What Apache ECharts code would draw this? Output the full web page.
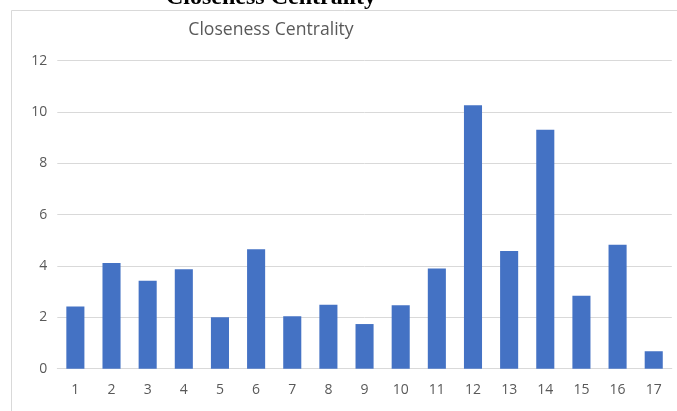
<!DOCTYPE html>
<html>
<head>
<meta charset="utf-8">
<script src="https://cdn.jsdelivr.net/npm/echarts@6/dist/echarts.min.js"></script>
<style>
  html, body { margin: 0; padding: 0; background: #fff; }
  #chart { width: 677px; height: 411px; }
</style>
</head>
<body>
<div id="chart"></div>
<script>
// Node ids and their closeness centrality scores
const nodes = ['1','2','3','4','5','6','7','8','9','10','11','12','13','14','15','16','17'];
const closeness = [2.42, 4.12, 3.43, 3.87, 2.0, 4.65, 2.04, 2.49, 1.74, 2.47, 3.9, 10.26, 4.59, 9.31, 2.84, 4.83, 0.68];
const yTicks = { min: 0, max: 12, step: 2 };

const chart = echarts.init(document.getElementById('chart'), null, { renderer: 'canvas' });

chart.setOption({
  animation: false,
  backgroundColor: '#ffffff',
  graphic: [
    {
      type: 'rect',
      silent: true,
      shape: { x: 11.5, y: 10.5, width: 700, height: 420 },
      style: { fill: 'none', stroke: '#d9d9d9', lineWidth: 1 }
    },
    {
      type: 'text',
      silent: true,
      x: 271,
      y: 10,
      style: {
        text: 'Closeness Centrality',
        fill: '#000000',
        font: 'bold 24px "Liberation Serif", "Times New Roman", serif',
        align: 'center',
        verticalAlign: 'bottom'
      }
    },
    {
      type: 'text',
      silent: true,
      x: 271,
      y: 30,
      style: {
        text: 'Closeness Centrality',
        fill: '#595959',
        font: '17.6px "Open Sans", "Noto Sans", sans-serif',
        align: 'center',
        verticalAlign: 'middle'
      }
    }
  ],
  grid: {
    left: 57.3,
    right: 5.2,
    top: 60.7,
    bottom: 42.3,
    containLabel: false
  },
  xAxis: {
    type: 'category',
    data: nodes,
    axisLine: { show: true, lineStyle: { color: '#d9d9d9', width: 1 } },
    axisTick: { show: false },
    axisLabel: {
      color: '#595959',
      fontSize: 14,
      margin: 14,
      fontFamily: '"Open Sans", "Noto Sans", sans-serif'
    }
  },
  yAxis: {
    type: 'value',
    min: yTicks.min,
    max: yTicks.max,
    interval: yTicks.step,
    axisLine: { show: false },
    axisTick: { show: false },
    splitLine: { lineStyle: { color: '#d9d9d9', width: 1 } },
    axisLabel: {
      color: '#595959',
      fontSize: 14,
      margin: 10,
      fontFamily: '"Open Sans", "Noto Sans", sans-serif'
    }
  },
  series: [
    {
      type: 'bar',
      data: closeness,
      barCategoryGap: '50%',
      itemStyle: { color: '#4472c4' }
    }
  ]
});
</script>
</body>
</html>
